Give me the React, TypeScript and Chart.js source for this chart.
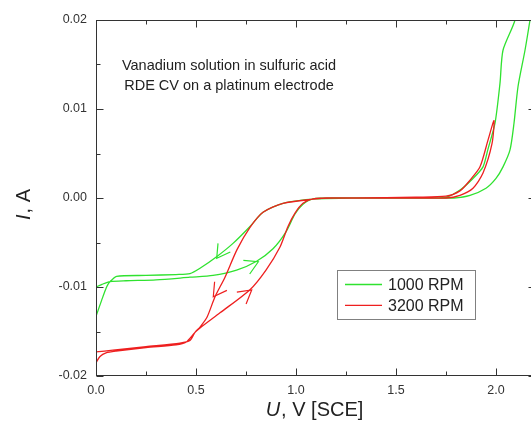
import React, { useEffect, useRef } from 'react';
import { Chart, registerables } from 'chart.js';

Chart.register(...registerables);

// ---- data (potential U in V, current I in A) ----
const u1000 = [
  0, 0.03, 0.07, 0.15, 0.3, 0.47, 0.585, 0.703, 0.803, 0.885, 0.95, 0.995, 1.035, 1.085, 1.2, 1.5, 1.7, 1.79, 1.87, 1.95, 2.0, 2.035, 2.07, 2.09, 2.11, 2.145, 2.17, 2.19,
  2.11, 2.095, 2.035, 2.02, 1.995, 1.96, 1.935, 1.885, 1.82, 1.75, 1.6, 1.3, 1.1, 0.935, 0.835, 0.77, 0.685, 0.603, 0.52, 0.47, 0.4, 0.25, 0.103, 0.07, 0.053, 0.028, 0,
];
const i1000 = [
  -0.0100, -0.0097, -0.0094, -0.0093, -0.0092, -0.0089, -0.0087, -0.0081, -0.0071, -0.0057, -0.0038, -0.0018, -0.0007, -0.0001, 0, 0, 0, 0, 0.0003, 0.0011, 0.0022, 0.0035, 0.0054, 0.0084, 0.0125, 0.0166, 0.0200, 0.0230,
  0.0230, 0.0200, 0.0166, 0.0129, 0.0084, 0.0055, 0.0035, 0.0022, 0.0009, 0.0001, 0, 0, -0.0001, -0.0006, -0.0016, -0.0032, -0.0051, -0.0066, -0.0079, -0.0085, -0.0086, -0.0087, -0.0088, -0.0094, -0.0100, -0.0115, -0.0133,
];
const u3200 = [
  0, 0.02, 0.05, 0.1, 0.25, 0.4, 0.45, 0.495, 0.52, 0.62, 0.77, 0.85, 0.92, 0.96, 0.995, 1.035, 1.085, 1.2, 1.5, 1.75, 1.82, 1.885, 1.935, 1.98, 1.99,
  1.96, 1.92, 1.87, 1.82, 1.75, 1.6, 1.3, 1.15, 1.1, 0.935, 0.835, 0.77, 0.705, 0.645, 0.595, 0.555, 0.52, 0.495, 0.47, 0.42, 0.25, 0.085, 0,
];
const i3200 = [
  -0.0185, -0.0178, -0.0174, -0.0172, -0.0168, -0.0165, -0.0162, -0.0151, -0.0146, -0.0129, -0.0103, -0.0081, -0.0055, -0.0032, -0.0017, -0.0006, -0.0001, 0, 0, 0, 0.0003, 0.0011, 0.0028, 0.0061, 0.0087,
  0.0065, 0.0035, 0.0020, 0.0008, 0.0002, 0.0001, 0, 0, -0.0001, -0.0006, -0.0016, -0.0033, -0.0058, -0.0089, -0.0111, -0.0134, -0.0145, -0.0151, -0.0160, -0.0163, -0.0167, -0.0171, -0.0173,
];

const seriesLabels = ['1000 RPM', '3200 RPM'];
const xTicks = [0, 0.5, 1.0, 1.5, 2.0];
const xMinorTicks = [0.25, 0.75, 1.25, 1.75];
const yTicks = [-0.02, -0.01, 0, 0.01, 0.02];
const yMinorTicks = [-0.015, -0.005, 0.005, 0.015];
const xTitleItalic = 'U';
const xTitleRest = ', V [SCE]';
const yTitleItalic = 'I';
const yTitleRest = ', A';
const noteLines = ['Vanadium solution in sulfuric acid', 'RDE CV on a platinum electrode'];
// direction arrows on the curves: position (U, I) and travel direction (deg, canvas)
const arrowU = [0.6035, 0.8115, 0.5865, 0.7785];
const arrowI = [-0.00678, -0.00716, -0.01109, -0.01034];
const arrowDir = [125, -25, 125, -38];
const arrowSeries = [0, 0, 1, 1];

const COLORS = ['#2fe22f', '#ee1f1f'];
const FONT = '"Liberation Sans", Arial, sans-serif';
const AXIS = '#333333';

const pts = (u: number[], i: number[]) => u.map((v, k) => ({ x: v, y: i[k] }));

const decorPlugin = {
  id: 'decor',
  afterDraw(chart: any) {
    const { ctx, chartArea: a, scales } = chart;
    const xs = scales.x;
    const ys = scales.y;
    const L = Math.round(a.left) + 0.5;
    const R = Math.round(a.right) - 0.5;
    const T = Math.round(a.top) + 0.5;
    const B = Math.round(a.bottom) - 0.5;
    ctx.save();
    // frame
    ctx.strokeStyle = AXIS;
    ctx.lineWidth = 1;
    ctx.strokeRect(L, T, R - L, B - T);
    // inward ticks on all sides
    const tick = (vals: number[], len: number) => {
      ctx.beginPath();
      vals.forEach((v) => {
        const px = Math.round(xs.getPixelForValue(v)) + 0.5;
        ctx.moveTo(px, B); ctx.lineTo(px, B - len);
        ctx.moveTo(px, T); ctx.lineTo(px, T + len);
      });
      ctx.stroke();
    };
    const tickY = (vals: number[], len: number) => {
      ctx.beginPath();
      vals.forEach((v) => {
        const py = Math.round(ys.getPixelForValue(v)) + 0.5;
        ctx.moveTo(L, py); ctx.lineTo(L + len, py);
        ctx.moveTo(R, py); ctx.lineTo(R - len, py);
      });
      ctx.stroke();
    };
    tick(xTicks, 7);
    tick(xMinorTicks, 4);
    tickY(yTicks, 7);
    tickY(yMinorTicks, 4);

    // arrows
    ctx.lineWidth = 1.2;
    arrowU.forEach((u, k) => {
      const px = xs.getPixelForValue(u);
      const py = ys.getPixelForValue(arrowI[k]);
      const back = ((arrowDir[k] + 180) * Math.PI) / 180;
      const spread = (30 * Math.PI) / 180;
      const len = 15;
      ctx.strokeStyle = COLORS[arrowSeries[k]];
      ctx.beginPath();
      ctx.moveTo(px + len * Math.cos(back - spread), py + len * Math.sin(back - spread));
      ctx.lineTo(px, py);
      ctx.lineTo(px + len * Math.cos(back + spread), py + len * Math.sin(back + spread));
      ctx.stroke();
    });

    // axis titles
    ctx.fillStyle = '#222';
    ctx.textBaseline = 'alphabetic';
    ctx.textAlign = 'left';
    const italicF = `italic 20px ${FONT}`;
    const normalF = `20px ${FONT}`;
    ctx.font = italicF;
    const wxi = ctx.measureText(xTitleItalic).width;
    ctx.font = normalF;
    const wxr = ctx.measureText(xTitleRest).width;
    const cx = (a.left + a.right) / 2 - 2;
    const x0 = cx - (wxi + wxr) / 2;
    ctx.font = italicF;
    ctx.fillText(xTitleItalic, x0, 416);
    ctx.font = normalF;
    ctx.fillText(xTitleRest, x0 + wxi + 1, 416);

    ctx.save();
    ctx.translate(30, 205);
    ctx.rotate(-Math.PI / 2);
    ctx.font = italicF;
    const wyi = ctx.measureText(yTitleItalic).width;
    ctx.font = normalF;
    const wyr = ctx.measureText(yTitleRest).width;
    const y0 = -(wyi + wyr) / 2;
    ctx.font = italicF;
    ctx.fillText(yTitleItalic, y0, 0);
    ctx.font = normalF;
    ctx.fillText(yTitleRest, y0 + wyi + 1, 0);
    ctx.restore();

    // note
    ctx.font = `14.5px ${FONT}`;
    ctx.textAlign = 'center';
    ctx.fillStyle = '#222';
    ctx.fillText(noteLines[0], 229, 69.5);
    ctx.fillText(noteLines[1], 229, 89.5);

    // legend
    ctx.strokeStyle = '#808080';
    ctx.lineWidth = 1;
    ctx.strokeRect(337.5, 270.5, 138, 49);
    ctx.font = `16px ${FONT}`;
    ctx.textAlign = 'left';
    ctx.textBaseline = 'middle';
    seriesLabels.forEach((lab, k) => {
      const ly = 284.5 + k * 20.8;
      ctx.strokeStyle = COLORS[k];
      ctx.lineWidth = 1.3;
      ctx.beginPath();
      ctx.moveTo(345, ly);
      ctx.lineTo(382, ly);
      ctx.stroke();
      ctx.fillStyle = '#222';
      ctx.fillText(lab, 388, ly + 1);
    });
    ctx.restore();
  },
};

export default function App() {
  const ref = useRef<HTMLCanvasElement | null>(null);
  useEffect(() => {
    if (!ref.current) return;
    const chart = new Chart(ref.current, {
      type: 'scatter',
      data: {
        datasets: [
          {
            label: seriesLabels[0],
            data: pts(u1000, i1000),
            showLine: true,
            borderColor: COLORS[0],
            borderWidth: 1.3,
            pointRadius: 0,
            tension: 0.25,
            order: 2,
          },
          {
            label: seriesLabels[1],
            data: pts(u3200, i3200),
            showLine: true,
            borderColor: COLORS[1],
            borderWidth: 1.3,
            pointRadius: 0,
            tension: 0.25,
            order: 1,
          },
        ],
      },
      options: {
        responsive: false,
        animation: false,
        devicePixelRatio: 1,
        layout: { padding: { left: 0, top: 20, right: 9, bottom: 0 } },
        plugins: { legend: { display: false }, tooltip: { enabled: false } },
        scales: {
          x: {
            type: 'linear',
            min: 0,
            max: 2.2,
            grid: { display: false, drawTicks: false, tickLength: 0 },
            border: { display: false },
            afterBuildTicks: (s: any) => { s.ticks = xTicks.map((v) => ({ value: v })); },
            afterFit: (s: any) => { s.height = 49; },
            ticks: {
              padding: 7,
              color: '#333',
              font: { family: FONT, size: 12.5 },
              callback: (v: any) => Number(v).toFixed(1),
              maxRotation: 0,
            },
          },
          y: {
            type: 'linear',
            min: -0.02,
            max: 0.02,
            grid: { display: false, drawTicks: false, tickLength: 0 },
            border: { display: false },
            afterBuildTicks: (s: any) => { s.ticks = yTicks.map((v) => ({ value: v })); },
            afterFit: (s: any) => { s.width = 96; },
            ticks: {
              padding: 9,
              color: '#333',
              font: { family: FONT, size: 12.5 },
              callback: (v: any) => Number(v).toFixed(2),
            },
          },
        },
      },
      plugins: [decorPlugin],
    });
    return () => chart.destroy();
  }, []);
  return (
    <div style={{ position: 'fixed', left: 0, top: 0, width: 531, height: 425, overflow: 'hidden', background: '#fff' }}>
      <canvas ref={ref} width={545} height={425} style={{ display: 'block' }} />
    </div>
  );
}
